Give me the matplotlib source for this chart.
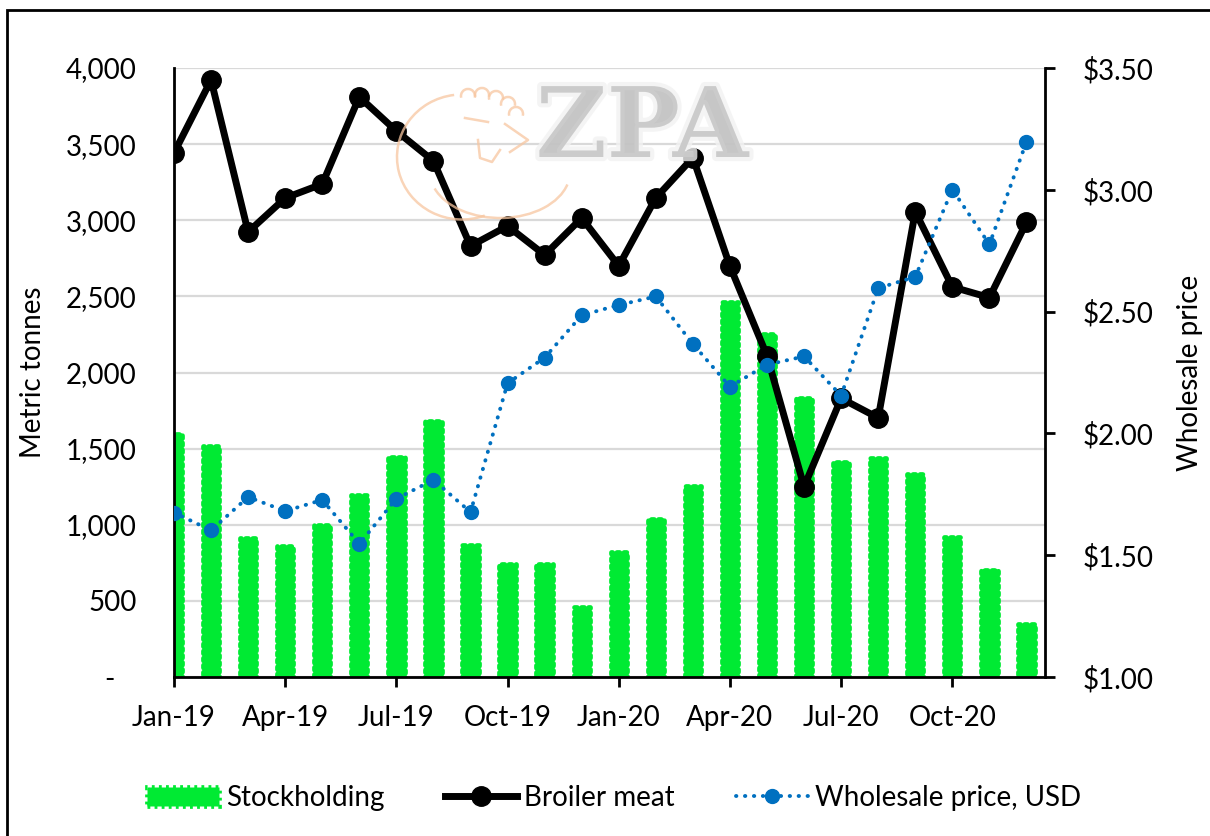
import numpy as np
import matplotlib.pyplot as plt
import matplotlib.patheffects as pe
from matplotlib.patches import Rectangle, Arc
from matplotlib.lines import Line2D
from matplotlib.ticker import FuncFormatter

# monthly data, Jan-19 .. Dec-20
months = ['Jan-19', 'Feb-19', 'Mar-19', 'Apr-19', 'May-19', 'Jun-19',
          'Jul-19', 'Aug-19', 'Sep-19', 'Oct-19', 'Nov-19', 'Dec-19',
          'Jan-20', 'Feb-20', 'Mar-20', 'Apr-20', 'May-20', 'Jun-20',
          'Jul-20', 'Aug-20', 'Sep-20', 'Oct-20', 'Nov-20', 'Dec-20']
stockholding = [1595, 1515, 915, 860, 1000, 1195, 1445, 1680, 865, 740, 745, 462,
                820, 1040, 1255, 2460, 2250, 1830, 1410, 1440, 1335, 918, 703, 350]
broiler_meat = [3442, 3921, 2923, 3146, 3238, 3810, 3586, 3389, 2831, 2962, 2772, 3015,
                2700, 3147, 3411, 2698, 2110, 1250, 1830, 1702, 3056, 2562, 2492, 2986]
wholesale_price = [1.675, 1.602, 1.739, 1.681, 1.727, 1.547, 1.732, 1.809, 1.677, 2.206,
                   2.311, 2.485, 2.527, 2.562, 2.367, 2.192, 2.282, 2.316, 2.155, 2.596,
                   2.643, 3.001, 2.776, 3.197]

green = '#00EA33'
blue = '#0070C0'
grid_col = '#D9D9D9'
fs = 20

plt.rcParams['font.family'] = ['Lato', 'DejaVu Sans']

W, H = 1210, 836
fig = plt.figure(figsize=(W / 100, H / 100), dpi=100)
ax = fig.add_axes([174 / W, 1 - 677 / H, 871 / W, 609 / H])
ax2 = ax.twinx()

x = np.arange(len(months))


def fp(px, py):
    return px / W, 1 - py / H


# watermark: faint chicken outline + ZPA lettering
wm = '#F7C6A0'
wkw = dict(transform=fig.transFigure, ec=wm, lw=1.8, alpha=0.75, fill=False)
fig.patches.append(Arc(fp(462, 157), 130 / W, 125 / H, theta1=95, theta2=285, **wkw))
fig.patches.append(Arc(fp(500, 172), 140 / W, 92 / H, theta1=200, theta2=345, **wkw))
for cx, cy in [(468, 96), (482, 95), (496, 98), (508, 104), (516, 114)]:
    fig.patches.append(Arc(fp(cx, cy), 14 / W, 14 / H, theta1=-20, theta2=200, **wkw))
for xs, ys in [([505, 528, 510], [124, 140, 152]),
               ([465, 488], [118, 122]),
               ([478, 480, 492, 500], [140, 158, 162, 150])]:
    xf, yf = zip(*[fp(a, b) for a, b in zip(xs, ys)])
    fig.lines.append(Line2D(xf, yf, transform=fig.transFigure, color=wm, lw=1.8, alpha=0.75))

fig.text(642 / W, 1 - 130 / H, 'ZPA', family='DejaVu Serif', weight='bold', fontsize=70,
         color='#C4C4C4', alpha=0.8, ha='center', va='center',
         path_effects=[pe.withStroke(linewidth=6, foreground='#F2F2F2')])

bars = ax.bar(x, stockholding, width=0.44, color=green, edgecolor=green,
              linewidth=3.4, linestyle=(0, (0.6, 0.9)), zorder=2, label='Stockholding')
for b in bars:
    b.set_capstyle('round')
    b.set_joinstyle('round')

ax.plot(x, broiler_meat, color='black', lw=5, marker='o', ms=14,
        zorder=3, label='Broiler meat')
ax2.plot(x, wholesale_price, color=blue, lw=2.8, linestyle=(0, (0.1, 2.2)),
         dash_capstyle='round', marker='o', ms=10, label='Wholesale price, USD')

ax.set_xlim(0, 23.5)
ax.set_ylim(0, 4000)
ax2.set_ylim(1.0, 3.5)

ax.set_yticks(np.arange(0, 4001, 500))
ax.yaxis.set_major_formatter(FuncFormatter(lambda v, p: '-   ' if v == 0 else f'{v:,.0f}'))
ax2.set_yticks(np.arange(1.0, 3.51, 0.5))
ax2.yaxis.set_major_formatter(FuncFormatter(lambda v, p: f'${v:.2f}'))

ax.set_xticks(x[::3])
ax.set_xticklabels(months[::3])

ax.grid(axis='y', color=grid_col, lw=1.6)
ax.set_axisbelow(True)

for a in (ax, ax2):
    a.spines['top'].set_visible(False)
    for s in a.spines.values():
        s.set_linewidth(2)
ax.spines['right'].set_visible(False)
ax2.spines['left'].set_visible(False)
ax2.spines['bottom'].set_visible(False)

ax.tick_params(axis='y', length=0, pad=27, labelsize=fs)
ax.tick_params(axis='x', length=7, width=2, direction='out', pad=13, labelsize=fs)
ax2.tick_params(axis='y', length=7, width=2, direction='out', pad=20, labelsize=fs)

ax.set_ylabel('Metric tonnes', fontsize=fs)
ax.yaxis.set_label_coords(-0.147, 0.5)
ax2.set_ylabel('Wholesale price', fontsize=fs)
ax2.yaxis.set_label_coords(1.152, 0.5)

handles = [bars, ax.lines[0], ax2.lines[0]]
fig.legend(handles, [h.get_label() for h in handles], loc='center',
           bbox_to_anchor=(614 / W, 1 - 798 / H), ncol=3, frameon=False,
           fontsize=fs, handlelength=2.6, columnspacing=2.2, handletextpad=0.25)

# outer frame
fig.patches.append(Rectangle((7 / W, -0.05), 1.1, 1.05 - 10 / H,
                             transform=fig.transFigure, fill=False, ec='black', lw=2))

fig.savefig('out.png', dpi=100)
